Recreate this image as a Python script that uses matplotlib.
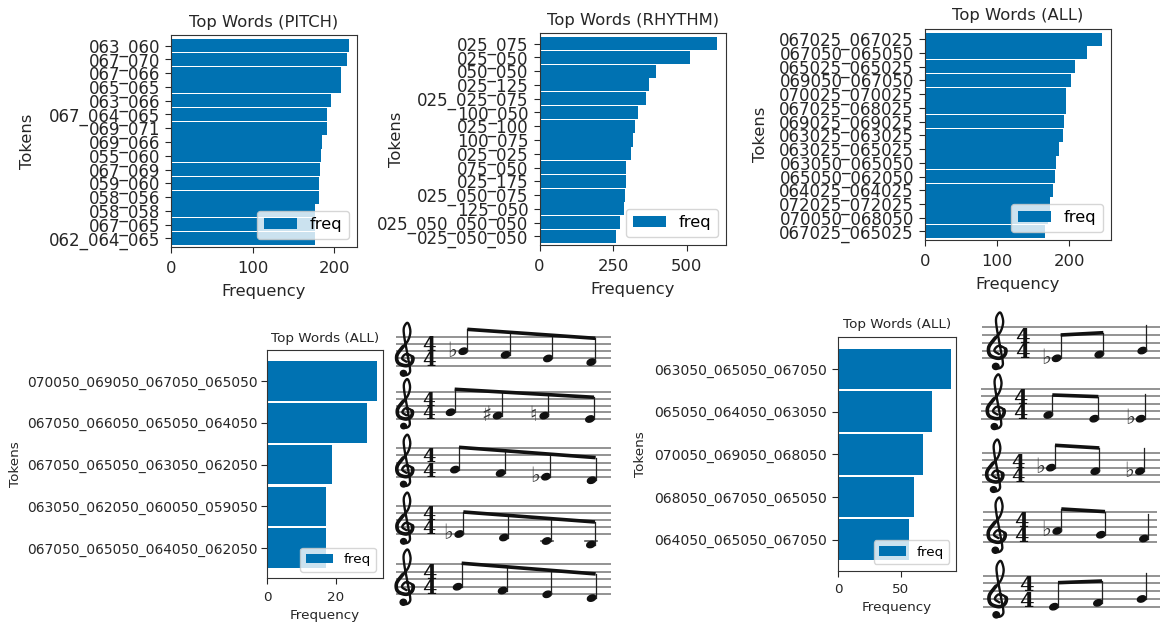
import numpy as np
import matplotlib
matplotlib.use('Agg')
import matplotlib.pyplot as plt
from matplotlib.patches import Ellipse

W, H = 1161, 624
BLUE = '#0072b2'
INK = '#262626'

pitch_tokens = ['063_060', '067_070', '067_066', '065_065', '063_066', '067_064_065', '069_071', '069_066',
                '055_060', '067_069', '059_060', '058_056', '058_058', '067_065', '062_064_065']
pitch_freq = [218, 216, 208, 208, 196, 191, 191, 185, 184, 183, 182, 182, 177, 176, 176]

rhythm_tokens = ['025_075', '025_050', '050_050', '025_125', '025_025_075', '100_050', '025_100', '100_075',
                 '025_025', '075_050', '025_175', '025_050_075', '125_050', '025_050_050_050', '025_050_050']
rhythm_freq = [602, 512, 394, 371, 363, 333, 323, 319, 312, 292, 292, 290, 286, 272, 259]

all_tokens = ['067025_067025', '067050_065050', '065025_065025', '069050_067050', '070025_070025',
              '067025_068025', '069025_069025', '063025_063025', '063025_065025', '063050_065050',
              '065050_062050', '064025_064025', '072025_072025', '070050_068050', '067025_065025']
all_freq = [246, 225, 208, 203, 196, 195, 193, 192, 186, 182, 181, 177, 173, 170, 166]

four_tokens = ['070050_069050_067050_065050', '067050_066050_065050_064050', '067050_065050_063050_062050',
               '063050_062050_060050_059050', '067050_065050_064050_062050']
four_freq = [32, 29, 19, 17, 17]

three_tokens = ['063050_065050_067050', '065050_064050_063050', '070050_069050_068050',
                '068050_067050_065050', '064050_065050_067050']
three_freq = [90, 75, 68, 61, 57]

# notes as MIDI pitches, with the accidental printed on each
four_notes = [[70, 69, 67, 65], [67, 66, 65, 64], [67, 65, 63, 62], [63, 62, 60, 59], [67, 65, 64, 62]]
four_accs = [['b', '', '', ''], ['', '#', 'n', ''], ['', '', 'b', ''], ['b', '', '', ''], ['', '', '', '']]
three_notes = [[63, 65, 67], [65, 64, 63], [70, 69, 68], [68, 67, 65], [64, 65, 67]]
three_accs = [['b', '', ''], ['', '', 'b'], ['b', '', 'b'], ['b', '', ''], ['', '', '']]

STEP = {59: -1, 60: 0, 62: 1, 63: 2, 64: 2, 65: 3, 66: 3, 67: 4, 68: 5, 69: 5, 70: 6, 71: 6}
ACC = {'b': '\u266d', '#': '\u266f', 'n': '\u266e'}

fig = plt.figure(figsize=(W / 100, H / 100), dpi=100)


def chart(box, tokens, freq, title, xmax, xticks, ylim, fs, ytick_fs, label_x, xpad, ypad, lpad):
    l, t, r, b = box
    ax = fig.add_axes([l / W, 1 - b / H, (r - l) / W, (b - t) / H])
    y = np.arange(len(freq))[::-1]
    ax.barh(y, freq, height=0.95, color=BLUE, label='freq')
    ax.set_yticks(y, tokens)
    ax.set_xticks(xticks)
    ax.set_xlim(0, xmax)
    ax.set_ylim(*ylim)
    ax.tick_params(axis='x', labelsize=fs, colors=INK, length=4.5, pad=xpad)
    ax.tick_params(axis='y', labelsize=ytick_fs, colors=INK, length=4.5, pad=ypad)
    ax.set_xlabel('Frequency', fontsize=fs, color=INK, labelpad=lpad)
    ax.set_ylabel('Tokens', fontsize=fs, color=INK)
    ax.yaxis.set_label_coords((label_x - l) / (r - l), 0.5)
    ax.set_title('Top Words (%s)' % title, fontsize=fs, color=INK)
    ax.legend(loc='lower right', fontsize=fs)
    for s in ax.spines.values():
        s.set_color('#333333')
    return ax


chart((171, 35, 357, 247), pitch_tokens, pitch_freq, 'PITCH', 228, [0, 100, 200], (-0.62, 14.77), 11.8, 12, 35, 5.5, 3.5, 5.5)
chart((539.5, 33, 726, 245), rhythm_tokens, rhythm_freq, 'RHYTHM', 633, [0, 250, 500], (-0.62, 14.77), 11.8, 12, 404, 5.5, 3.5, 5.5)
chart((925, 28.5, 1111, 240), all_tokens, all_freq, 'ALL', 258, [0, 100, 200], (-0.62, 14.77), 11.8, 12, 768, 5.5, 3.5, 5.5)
chart((267.3, 350, 382.7, 578.3), four_tokens, four_freq, 'ALL', 33.7, [0, 20], (-0.72, 4.74), 9.7, 9.9, 22, 4.5, 2.5, 3.5)
chart((838.3, 336.7, 956, 570.7), three_tokens, three_freq, 'ALL', 94.4, [0, 50], (-0.73, 4.76), 9.7, 10.1, 647, 4.5, 3.5, 3.5)

# overlay in pixel coordinates for the engraved staves
ov = fig.add_axes([0, 0, 1, 1], facecolor='none')
ov.set_xlim(0, W)
ov.set_ylim(H, 0)
ov.axis('off')

CLEF = np.array([(0.05, -0.45), (-0.45, 0.0), (0.0, 0.6), (0.75, 0.2), (0.65, -0.6), (0.0, -1.0), (-0.9, -0.6),
                 (-1.05, 0.4), (-0.5, 1.4), (0.2, 2.4), (0.5, 3.6), (0.35, 4.6), (0.1, 4.9), (-0.25, 4.2),
                 (-0.2, 3.0), (0.1, 1.0), (0.45, -1.3), (0.4, -2.0), (0.0, -2.3), (-0.4, -2.0)])


def smooth(p, k=12):
    q = np.vstack([p[0], p, p[-1]])
    out = []
    for i in range(1, len(q) - 2):
        for u in np.linspace(0, 1, k, endpoint=False):
            out.append(0.5 * (2 * q[i] + (q[i + 1] - q[i - 1]) * u
                              + (2 * q[i - 1] - 5 * q[i] + 4 * q[i + 1] - q[i + 2]) * u ** 2
                              + (3 * q[i] - q[i - 1] - 3 * q[i + 1] + q[i + 2]) * u ** 3))
    return np.array(out)


def staff(x0, x1, top, bottom, clef_x, time_x, notes, accs, xs, beam_xy, beam_n):
    s = (bottom - top) / 4
    for k in range(5):
        ov.plot([x0, x1], [top + k * s] * 2, color='#8a8a8a', lw=1.3, solid_capstyle='butt', zorder=1)
    c = smooth(CLEF)
    g = bottom - s
    cx, cy = clef_x + c[:, 0] * s * 1.2, g - c[:, 1] * s
    ov.plot(cx, cy, color='#111111', lw=1.7, zorder=3, solid_capstyle='round')
    ov.plot(cx[36:100], cy[36:100], color='#111111', lw=2.6, zorder=3, solid_capstyle='round')
    ov.add_patch(Ellipse((clef_x - 0.35 * s, g + 2.05 * s), 0.85 * s, 0.8 * s, color='#111111', zorder=3))
    for yy in (top + 2 * s, bottom):
        ov.text(time_x, yy, '4', family='DejaVu Serif', weight='bold', fontsize=s * 1.95, ha='center',
                va='baseline', color='#111111', zorder=3)
    ys = [bottom - (STEP[m] - 2) * s / 2 for m in notes]
    hw = 8.8
    stems = [x + hw / 2 - 0.4 for x in xs]
    (bx0, by0), (bx1, by1) = beam_xy
    tops = []
    for i, (x, yy, sx) in enumerate(zip(xs, ys, stems)):
        ov.add_patch(Ellipse((x, yy), hw, 6.0, angle=-20, color='#111111', zorder=3))
        if i < beam_n:
            ty = by0 + (by1 - by0) * (sx - bx0) / (bx1 - bx0)
        else:
            ty = yy - 3.3 * s
        tops.append(ty)
        ov.plot([sx, sx], [yy, ty], color='#222222', lw=0.9, zorder=3)
        if accs[i]:
            ov.text(x - 11, yy + 5.5, ACC[accs[i]], fontsize=15, ha='center', va='baseline', color='#333333',
                    zorder=3)
        if STEP[notes[i]] <= 0:
            ov.plot([x - 6, x + 6], [bottom + s] * 2, color='#555555', lw=1.2, zorder=2)
    ov.plot([stems[0], stems[beam_n - 1]], [tops[0], tops[beam_n - 1]], color='#111111', lw=2.6,
            solid_capstyle='butt', zorder=3)


L = 390
T = 320
left_layout = [
    (336.7, 365.7, [220, 347, 474, 604], ((232, 28), (618, 55))),
    (392, 419, [182, 323, 463, 600], ((197, 208), (615, 232))),
    (448.3, 476.7, [195, 332, 468, 605], ((208, 382), (620, 413))),
    (506, 534, [208, 342, 470, 603], ((220, 576), (616, 606))),
    (564, 594.3, [203, 338, 472, 605], ((218, 730), (620, 762))),
]
for (top, bot, zx, zb), n, a in zip(left_layout, four_notes, four_accs):
    xs = [L + v / 3 for v in zx]
    beam = tuple((L + p / 3, T + q / 3) for p, q in zb)
    staff(396, 611, top, bot, 406, 429, n, a, xs, beam, 4)

L = 970
T = 310
right_layout = [
    (327.3, 358.3, 982, 1160, 998.5, 1022, [260, 388, 517], ((272, 75), (402, 68))),
    (388.7, 418.7, 981, 1160, 997, 1020, [235, 373, 512], ((247, 255), (387, 260))),
    (453.3, 482, 982, 1160, 996, 1018, [243, 376, 510], ((257, 406), (390, 414))),
    (512, 542.3, 983, 1157, 998, 1021, [262, 393, 522], ((275, 597), (406, 605))),
    (575.7, 606.7, 983, 1160, 999, 1026, [252, 384, 515], ((266, 818), (398, 813))),
]
for (top, bot, x0, x1, cx, tx, zx, zb), n, a in zip(right_layout, three_notes, three_accs):
    xs = [L + v / 3 for v in zx]
    beam = tuple((L + p / 3, T + q / 3) for p, q in zb)
    staff(x0, x1, top, bot, cx, tx, n, a, xs, beam, 2)

fig.savefig('out.png', dpi=100)
